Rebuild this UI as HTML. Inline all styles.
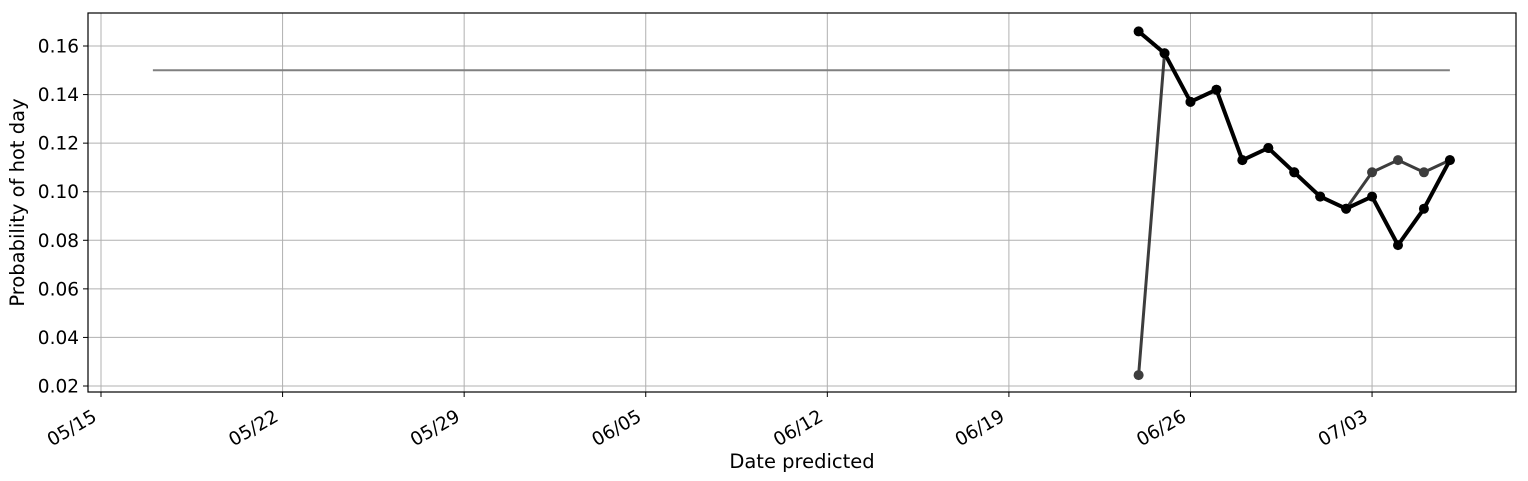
<!DOCTYPE html>
<html><head><meta charset="utf-8"><style>
html,body{margin:0;padding:0;background:#fff;}
svg{display:block;font-family:"DejaVu Sans","Liberation Sans",sans-serif;}
</style></head><body>
<svg id="chart" width="1528" height="481" viewBox="0 0 1528 481" xmlns="http://www.w3.org/2000/svg"></svg>
<script>
const yTicks=[0.02,0.04,0.06,0.08,0.10,0.12,0.14,0.16];
const xTickDays=[0,7,14,21,28,35,42,49];
const xTickLabels=["05/15","05/22","05/29","06/05","06/12","06/19","06/26","07/03"];
const seriesDays=[40,41,42,43,44,45,46,47,48,49,50,51,52];
const forecastA=[0.166,0.157,0.137,0.142,0.113,0.118,0.108,0.098,0.093,0.098,0.078,0.093,0.113];
const forecastB=[0.0245,0.157,0.137,0.142,0.113,0.118,0.108,0.098,0.093,0.108,0.113,0.108,0.113];
const baselineDays=[2,52];
const baselineValue=0.150;

const L=88,R=1516,T=13,B=392;
const x0=101,dayW=25.94;
const xs=d=>x0+d*dayW;
const y0=386,unit=(386-46)/0.14;
const ys=v=>y0-(v-0.02)*unit;
const svg=document.getElementById('chart');
const NS='http://www.w3.org/2000/svg';
function mk(tag,attrs,parent){const e=document.createElementNS(NS,tag);for(const k in attrs)e.setAttribute(k,attrs[k]);(parent||svg).appendChild(e);return e;}

const grid=mk('g',{});


yTicks.forEach(v=>{const l=mk('line',{x1:L,x2:R,y1:ys(v),y2:ys(v),stroke:'#b0b0b0','stroke-width':1},grid);

});
xTickDays.forEach(d=>{const l=mk('line',{x1:xs(d),x2:xs(d),y1:T,y2:B,stroke:'#b0b0b0','stroke-width':1},grid);

});

const yax=mk('g',{});


yTicks.forEach(v=>{mk('line',{x1:L-5,x2:L,y1:ys(v),y2:ys(v),stroke:'#000'},yax);
const t=mk('text',{x:L-9,y:ys(v)+6.5,'text-anchor':'end','font-size':18.5},yax);t.textContent=v.toFixed(2);

});
const xax=mk('g',{});


xTickDays.forEach((d,i)=>{mk('line',{x1:xs(d),x2:xs(d),y1:B,y2:B+5,stroke:'#000'},xax);
const ax=xs(d)-3,ay=B+28;
const t=mk('text',{x:ax,y:ay,'text-anchor':'end','font-size':18.5,transform:`rotate(-30 ${ax} ${ay})`},xax);t.textContent=xTickLabels[i];

});

const bl=mk('line',{x1:xs(baselineDays[0]),x2:xs(baselineDays[1]),y1:ys(baselineValue),y2:ys(baselineValue),stroke:'#808080','stroke-width':2});



function series(vals,color,w,op,name){const g=mk('g',{opacity:op});


mk('polyline',{points:seriesDays.map((d,i)=>xs(d)+','+ys(vals[i])).join(' '),fill:'none',stroke:color,'stroke-width':w,'stroke-linejoin':'round'},g);
seriesDays.forEach((d,i)=>{const c=mk('circle',{cx:xs(d),cy:ys(vals[i]),r:5,fill:color},g);

});}
series(forecastB,'#333',3,0.95,'forecast-series-b');
series(forecastA,'#000',4,1,'forecast-series-a');

const fr=mk('rect',{x:L,y:T,width:R-L,height:B-T,fill:'none',stroke:'#000','stroke-width':1.2});


const xl=mk('text',{x:(L+R)/2,y:468,'text-anchor':'middle','font-size':19.5});xl.textContent='Date predicted';


const yl=mk('text',{x:24,y:(T+B)/2,'text-anchor':'middle','font-size':19.5,transform:`rotate(-90 24 ${(T+B)/2})`});yl.textContent='Probability of hot day';


</script>
</body></html>
